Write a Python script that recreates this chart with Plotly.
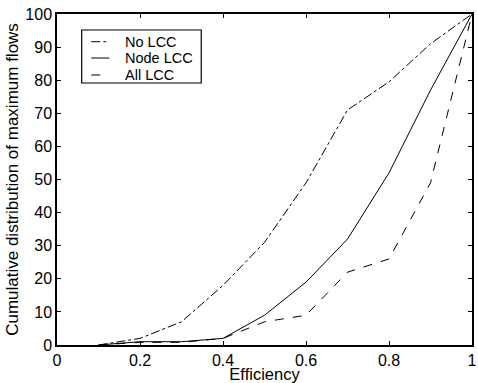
import plotly.graph_objects as go

efficiency = [0.1, 0.2, 0.3, 0.4, 0.5, 0.6, 0.7, 0.8, 0.9, 1.0]
no_lcc = [0, 2, 7, 18, 31, 49, 71, 79.5, 91, 100]
node_lcc = [0, 1, 1, 2, 9, 19, 32, 52, 77, 100]
all_lcc = [0, 0.8, 0.8, 2, 7, 9, 22, 26, 49, 100]

series_names = ["No LCC", "Node LCC", "All LCC"]
series_values = [no_lcc, node_lcc, all_lcc]
series_dash = ["dashdot", "solid", "dash"]

xticks = [0, 0.2, 0.4, 0.6, 0.8, 1]
xticklabels = ["0", "0.2", "0.4", "0.6", "0.8", "1"]
yticks = [0, 10, 20, 30, 40, 50, 60, 70, 80, 90, 100]

family = "Liberation Sans, Arial, sans-serif"
tick_font = dict(family=family, size=16, color="black")
xtitle_font = dict(family=family, size=16.5, color="black")
ytitle_font = dict(family=family, size=17, color="black")
legend_font = dict(family=family, size=14.5, color="black")

fig = go.Figure()
for name, vals, dash in zip(series_names, series_values, series_dash):
    fig.add_trace(go.Scatter(x=efficiency, y=vals, mode="lines", name=name,
                             showlegend=False,
                             line=dict(color="black", width=1, dash=dash)))

axis_common = dict(showgrid=False, zeroline=False, showline=True, linecolor="black",
                   linewidth=1.5, mirror="ticks", ticks="inside", ticklen=4,
                   tickcolor="black", tickwidth=1, tickfont=tick_font,
                   ticklabeloverflow="allow")

fig.update_xaxes(range=[0, 1], tickvals=xticks, ticktext=xticklabels,
                 title=dict(text="Efficiency", font=xtitle_font, standoff=0), **axis_common)
fig.update_yaxes(range=[0, 100], tickvals=yticks,
                 title=dict(text="Cumulative distribution of maximum flows", font=ytitle_font, standoff=2),
                 **axis_common)

# Compact legend box (paper coordinates)
box = dict(x0=0.0595, x1=0.3476, y0=0.7915, y1=0.9517)
fig.add_shape(type="rect", xref="paper", yref="paper", **box,
              line=dict(color="black", width=1.2), fillcolor="white", layer="above")
row_y = [0.9163, 0.867, 0.8157]
sample_x0, sample_x1, text_x = 0.0826, 0.126, 0.160
for name, dash, ry in zip(series_names, series_dash, row_y):
    fig.add_shape(type="line", xref="paper", yref="paper",
                  x0=sample_x0, x1=sample_x1, y0=ry, y1=ry,
                  line=dict(color="black", width=1, dash=dash), layer="above")
    fig.add_annotation(x=text_x, y=ry, xref="paper", yref="paper", text=name,
                       showarrow=False, xanchor="left", yanchor="middle", font=legend_font)

fig.update_layout(
    width=478, height=383,
    margin=dict(l=57, r=6, t=14, b=38, autoexpand=False),
    plot_bgcolor="white", paper_bgcolor="white",
    font=tick_font,
    showlegend=False,
)

fig.write_html("out.html")
